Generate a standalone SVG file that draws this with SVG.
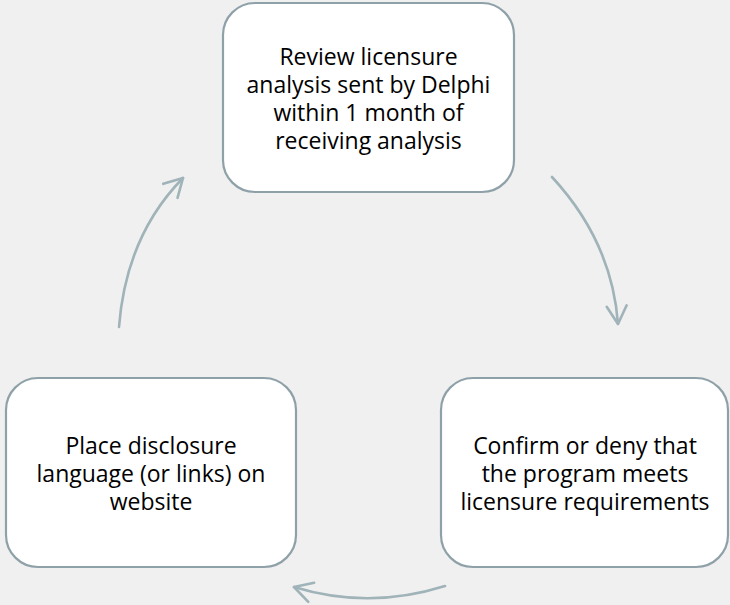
<svg xmlns="http://www.w3.org/2000/svg" width="730" height="605" viewBox="0 0 730 605">
<style>
.box{fill:#ffffff;stroke:#8fa1a8;stroke-width:2.2}
.lbl{font-family:"Open Sans","Noto Sans",sans-serif;font-size:23px;fill:#000;text-anchor:middle}
.conn{fill:none;stroke:#9fb3b9;stroke-width:2.6;stroke-linecap:round}
</style>
<defs>
<marker id="arr" markerUnits="userSpaceOnUse" markerWidth="30" markerHeight="30" viewBox="-22 -15 30 30" refX="0" refY="0" orient="auto">
<path d="M-18,-10 L0,0 L-18,10" fill="none" stroke="#9fb3b9" stroke-width="2.6" stroke-linecap="round" stroke-linejoin="round"/>
</marker>
</defs>
<rect width="730" height="605" fill="#f0f0f0"/>
<g id="connectors">
<path class="conn" d="M552,177 Q612,242 618,324" marker-end="url(#arr)"/>
<path class="conn" d="M445,586 Q369,610 294,587" marker-end="url(#arr)"/>
<path class="conn" d="M119,327 Q126,236 183,178" marker-end="url(#arr)"/>
</g>
<g id="node-review">
<rect class="box" x="223" y="3" width="291" height="189" rx="32"/>
<text class="lbl" x="368.5" y="65">Review licensure</text>
<text class="lbl" x="368.5" y="93">analysis sent by Delphi</text>
<text class="lbl" x="368.5" y="121">within 1 month of</text>
<text class="lbl" x="368.5" y="149">receiving analysis</text>
</g>
<g id="node-confirm">
<rect class="box" x="441" y="378" width="287" height="189" rx="32"/>
<text class="lbl" x="585" y="454">Confirm or deny that</text>
<text class="lbl" x="585" y="482">the program meets</text>
<text class="lbl" x="585" y="510">licensure requirements</text>
</g>
<g id="node-place">
<rect class="box" x="6" y="378" width="290" height="189" rx="32"/>
<text class="lbl" x="151" y="454">Place disclosure</text>
<text class="lbl" x="151" y="482">language (or links) on</text>
<text class="lbl" x="151" y="510">website</text>
</g>
</svg>
